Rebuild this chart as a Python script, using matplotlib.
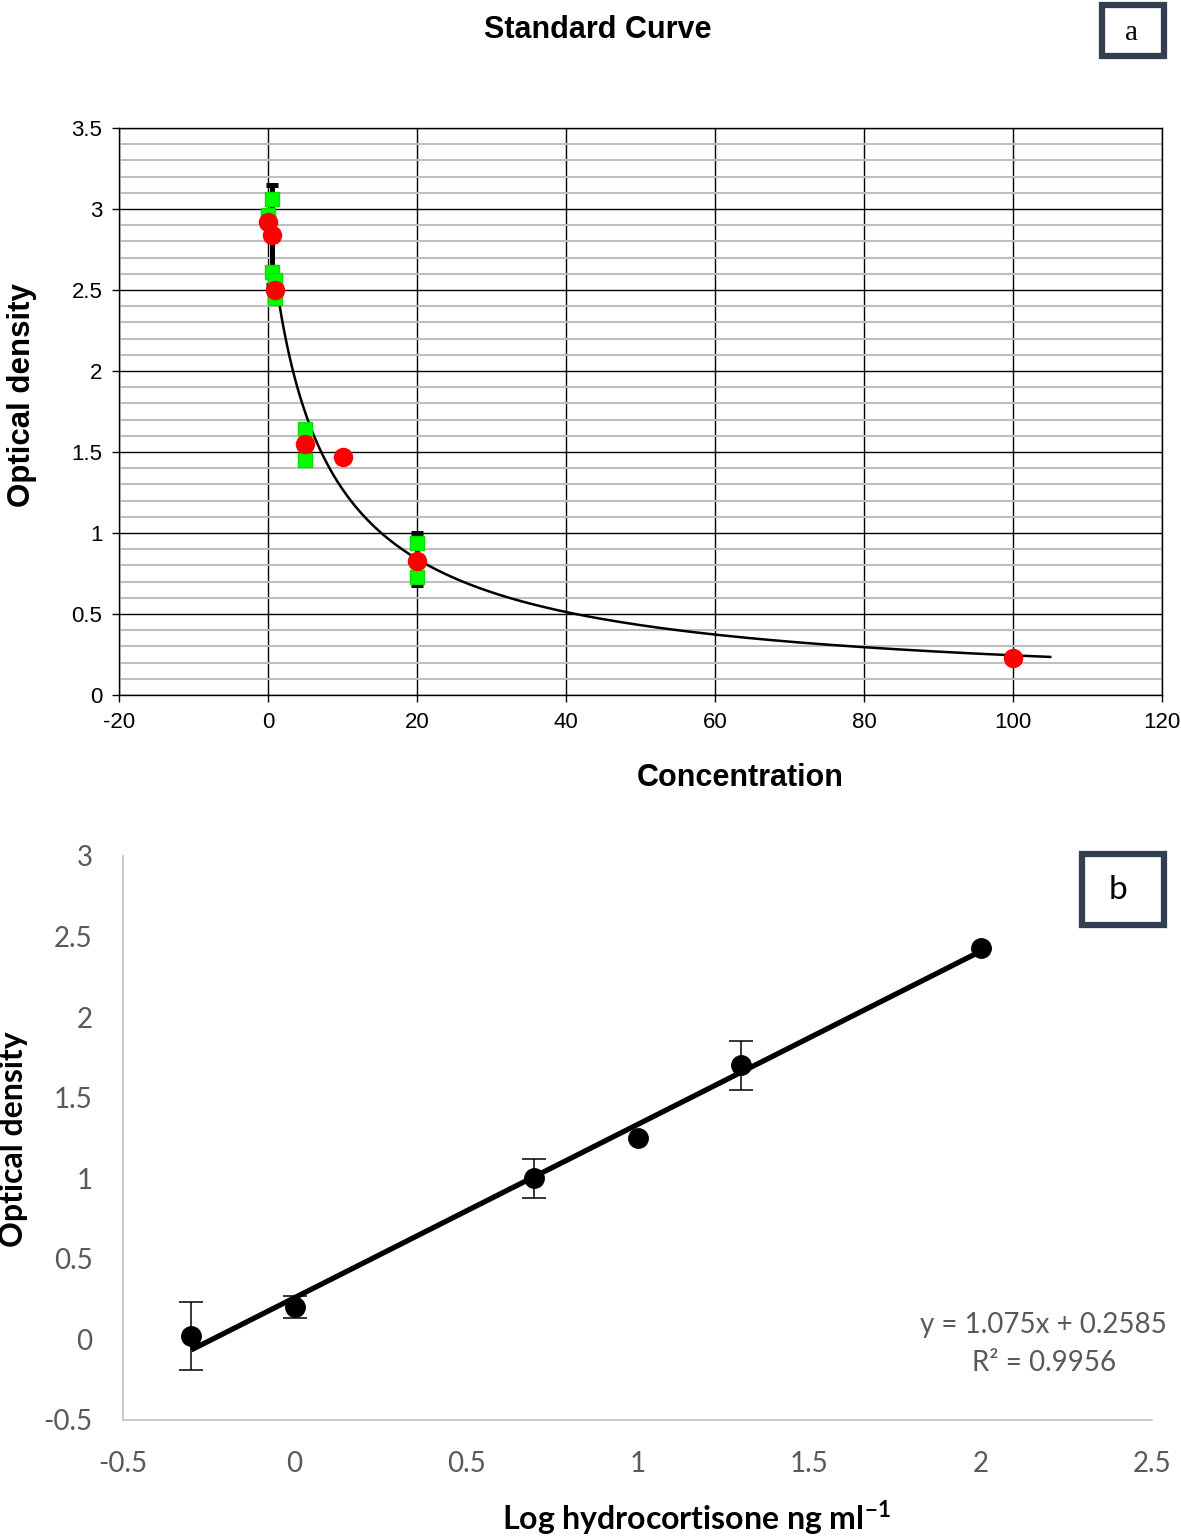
import numpy as np
import matplotlib
matplotlib.use("Agg")
import matplotlib.pyplot as plt
from matplotlib.patches import Rectangle
from matplotlib.ticker import MultipleLocator

plt.rcParams["mathtext.fontset"] = "custom"
plt.rcParams["mathtext.rm"] = "Lato"
plt.rcParams["mathtext.bf"] = "Lato:bold"

# ---------------- data: panel a ----------------
red_conc = [0, 0.5, 1, 5, 10, 20, 100]
red_od = [2.92, 2.84, 2.50, 1.55, 1.47, 0.83, 0.23]

green_conc = [0, 0.5, 0.5, 1, 1, 5, 5, 20, 20]
green_od = [2.96, 3.06, 2.61, 2.56, 2.45, 1.64, 1.45, 0.94, 0.73]

err_conc = [0.5, 5, 20]
err_mid = [2.84, 1.55, 0.84]
err_size = [0.31, 0.12, 0.16]

# fitted 4-parameter logistic curve parameters
fit_top = 3.0
fit_c = 7.14
fit_b = 0.917
fit_range = [0.8, 105]

# ---------------- data: panel b ----------------
log_conc = [-0.301, 0.0, 0.699, 1.0, 1.301, 2.0]
od_b = [0.02, 0.20, 1.00, 1.25, 1.70, 2.43]
od_b_err = [0.21, 0.07, 0.12, 0.0, 0.15, 0.0]
slope = 1.075
intercept = 0.2585
r2 = 0.9956

W, H = 1181, 1537
fig = plt.figure(figsize=(W / 100, H / 100), dpi=100)

def fx(px):
    return px / W

def fy(py):
    return 1 - py / H

# ---------------- panel a ----------------
tf = "Liberation Sans"
ax1 = fig.add_axes([fx(119), fy(695), fx(1162) - fx(119), fy(128) - fy(695)])
ax1.set_xlim(-20, 120)
ax1.set_ylim(0, 3.5)
xt1 = np.arange(-20, 121, 20)
ax1.set_xticks(xt1)
ax1.set_xticklabels([f"{int(v)}" for v in xt1], fontfamily=tf, fontsize=16)
yt = np.arange(0, 3.51, 0.5)
ax1.set_yticks(yt)
ax1.set_yticklabels([("%g" % v) for v in yt], fontfamily=tf, fontsize=16)
ax1.yaxis.set_minor_locator(MultipleLocator(0.1))
ax1.grid(which="major", color="black", lw=1.0, zorder=0)
ax1.grid(which="minor", axis="y", color="#BFBFBF", lw=1.5, zorder=0)
ax1.tick_params(which="minor", length=0)
ax1.tick_params(which="major", direction="out", length=5, width=1, color="black", pad=7)
for s in ax1.spines.values():
    s.set_color("black")
    s.set_linewidth(1.0)
ax1.set_axisbelow(True)
ax1.set_xlim(-20, 120)
ax1.set_ylim(0, 3.5)

xc = np.linspace(fit_range[0], fit_range[1], 600)
yc = fit_top / (1 + (xc / fit_c) ** fit_b)
ax1.plot(xc, yc, color="black", lw=1.8, zorder=3)

ax1.errorbar(err_conc, err_mid, yerr=err_size, fmt="none", ecolor="black",
             elinewidth=3.6, capsize=4.5, capthick=3.6, zorder=4)
ax1.plot(green_conc, green_od, ls="none", marker="s", ms=10, color="#00FF00",
         mec="#00E000", zorder=5)
ax1.plot(red_conc, red_od, ls="none", marker="o", ms=13, color="#FF0000",
         mec="#FF0000", zorder=6)

fig.text(fx(740), fy(778), "Concentration", ha="center", va="center",
         fontfamily=tf, fontweight="bold", fontsize=22)
fig.text(fx(22), fy(395), "Optical density", ha="center", va="center", rotation=90,
         fontfamily=tf, fontweight="bold", fontsize=22.5)
fig.text(fx(598), fy(30), "Standard Curve", ha="center", va="center",
         fontfamily=tf, fontweight="bold", fontsize=22)

box_col = "#333F50"
fig.add_artist(Rectangle((fx(1102), fy(56)), fx(1164) - fx(1102), fy(5) - fy(56),
                         transform=fig.transFigure, fill=False, ec=box_col, lw=4.5))
fig.text(fx(1132), fy(33), "a", ha="center", va="center",
         fontfamily="Liberation Serif", fontsize=21)

# ---------------- panel b ----------------
bf = "Lato"
ax2 = fig.add_axes([fx(123), fy(1420), fx(1152) - fx(123), fy(856) - fy(1420)])
ax2.set_xlim(-0.5, 2.5)
ax2.set_ylim(-0.5, 3.0)
xt = np.arange(-0.5, 2.51, 0.5)
ax2.set_xticks(xt)
ax2.set_xticklabels([("%g" % v) for v in xt], fontfamily=bf, fontsize=20, color="#595959")
ytb = np.arange(-0.5, 3.01, 0.5)
ax2.set_yticks(ytb)
ax2.set_yticklabels([("%g" % v) for v in ytb], fontfamily=bf, fontsize=20, color="#595959")
ax2.tick_params(axis="y", length=0, pad=22)
ax2.tick_params(axis="x", length=0, pad=22)
ax2.spines["top"].set_visible(False)
ax2.spines["right"].set_visible(False)
ax2.spines["left"].set_color("#BFBFBF")
ax2.spines["bottom"].set_color("#BFBFBF")
ax2.spines["left"].set_linewidth(1.2)
ax2.spines["bottom"].set_linewidth(1.2)

xl = np.array([min(log_conc), max(log_conc)])
ax2.plot(xl, slope * xl + intercept, color="black", lw=3.8, zorder=4,
         solid_capstyle="butt")
has_err = [i for i, e in enumerate(od_b_err) if e > 0]
ax2.errorbar([log_conc[i] for i in has_err], [od_b[i] for i in has_err],
             yerr=[od_b_err[i] for i in has_err], fmt="none",
             ecolor="black", elinewidth=1.1, capsize=8.5, capthick=1.1, zorder=3)
ax2.plot(log_conc, od_b, ls="none", marker="o", color="black", ms=14, zorder=3)

fig.text(fx(1043), fy(1325), f"y = {slope}x + {intercept}",
         ha="center", va="center", fontfamily=bf, fontsize=20, color="#595959")
fig.text(fx(1044), fy(1363), f"R² = {r2}",
         ha="center", va="center", fontfamily=bf, fontsize=20, color="#595959")

fig.text(fx(696), fy(1518), "Log hydrocortisone ng ml$^{\\mathbf{-1}}$", ha="center",
         va="center", fontfamily=bf, fontweight="bold", fontsize=23)
fig.text(fx(14), fy(1139), "Optical density", ha="center", va="center", rotation=90,
         fontfamily=bf, fontweight="bold", fontsize=23)

fig.add_artist(Rectangle((fx(1082), fy(925)), fx(1164) - fx(1082), fy(854) - fy(925),
                         transform=fig.transFigure, fill=False, ec=box_col, lw=4.5))
fig.text(fx(1118), fy(890), "b", ha="center", va="center",
         fontfamily="Lato", fontsize=24)

fig.savefig("out.png", dpi=100)
